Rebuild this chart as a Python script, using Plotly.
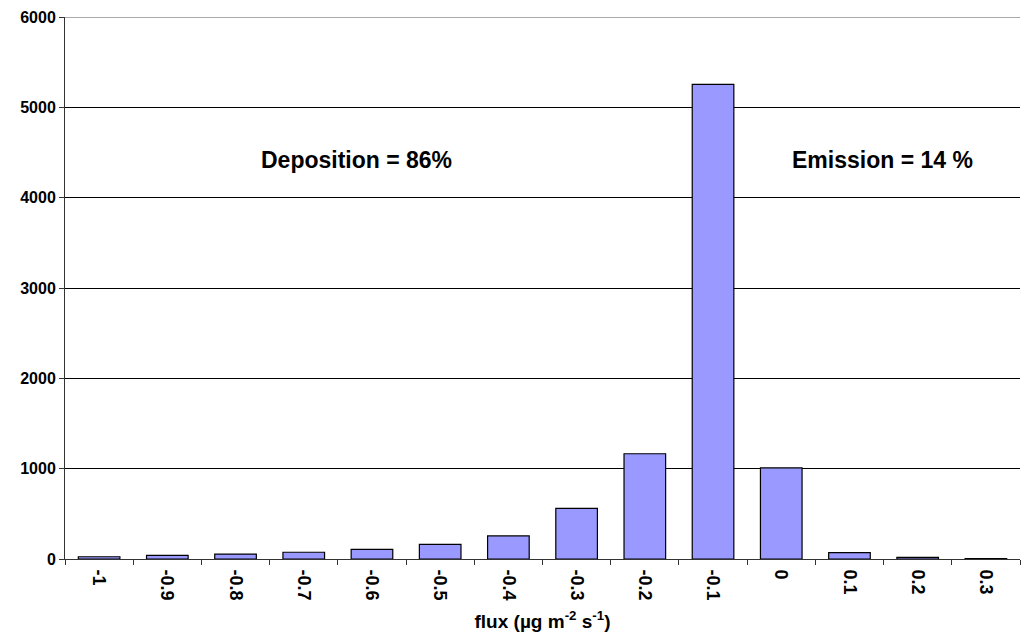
import plotly.graph_objects as go

categories = ["-1", "-0.9", "-0.8", "-0.7", "-0.6", "-0.5", "-0.4", "-0.3",
              "-0.2", "-0.1", "0", "0.1", "0.2", "0.3"]
counts = [25, 40, 55, 75, 107, 163, 255, 560, 1165, 5255, 1008, 70, 18, 5]
y_ticks = [0, 1000, 2000, 3000, 4000, 5000, 6000]

font_family = "Liberation Sans, Arial, sans-serif"

fig = go.Figure()
fig.add_trace(go.Bar(
    x=categories, y=counts,
    marker=dict(color="#9999FF", line=dict(color="black", width=1.2)),
    width=0.61,
))

# page body has an 8px margin; compensate so the plot area lands where the reference has it
fig.update_layout(
    width=1019, height=624,
    margin=dict(l=57, r=7, t=9, b=73, autoexpand=False),
    plot_bgcolor="white", paper_bgcolor="white",
    showlegend=False,
    font=dict(family=font_family, color="black"),
    xaxis=dict(
        type="category",
        automargin=False,
        tickangle=90,
        tickvals=categories,
        ticktext=[f"<b>{c}</b>" for c in categories],
        tickfont=dict(size=18, family=font_family, color="black"),
        ticks="outside", ticklen=5, tickcolor="#333",
        tickson="boundaries",
        ticklabelstandoff=6,
        showline=True, linecolor="#333", linewidth=1,
        showgrid=False,
        title=dict(text="<b>flux (µg m<sup>-2</sup> s<sup>-1</sup>)</b>",
                   font=dict(size=19, family=font_family, color="black"),
                   standoff=18),
    ),
    yaxis=dict(
        automargin=False,
        range=[0, 6000],
        tickvals=y_ticks,
        ticktext=[f"<b>{v}</b>" for v in y_ticks],
        tickfont=dict(size=16, family=font_family, color="black"),
        ticklabeloverflow="allow",
        ticks="outside", ticklen=5, tickcolor="#333",
        showline=True, linecolor="#333", linewidth=1,
        showgrid=True, gridcolor="black", gridwidth=1,
        zeroline=False,
        mirror=False,
    ),
    shapes=[dict(type="line", xref="paper", yref="y", x0=0, x1=1, y0=6000, y1=6000,
                 line=dict(color="#555", width=1))],
    annotations=[
        dict(text="<b>Deposition = 86%</b>", x=0.305, y=4420, xref="paper", yref="y",
             xanchor="center", yanchor="middle",
             showarrow=False, font=dict(size=23, family=font_family, color="black")),
        dict(text="<b>Emission = 14 %</b>", x=0.856, y=4420, xref="paper", yref="y",
             xanchor="center", yanchor="middle",
             showarrow=False, font=dict(size=23, family=font_family, color="black")),
    ],
)

fig.write_html("out.html")
